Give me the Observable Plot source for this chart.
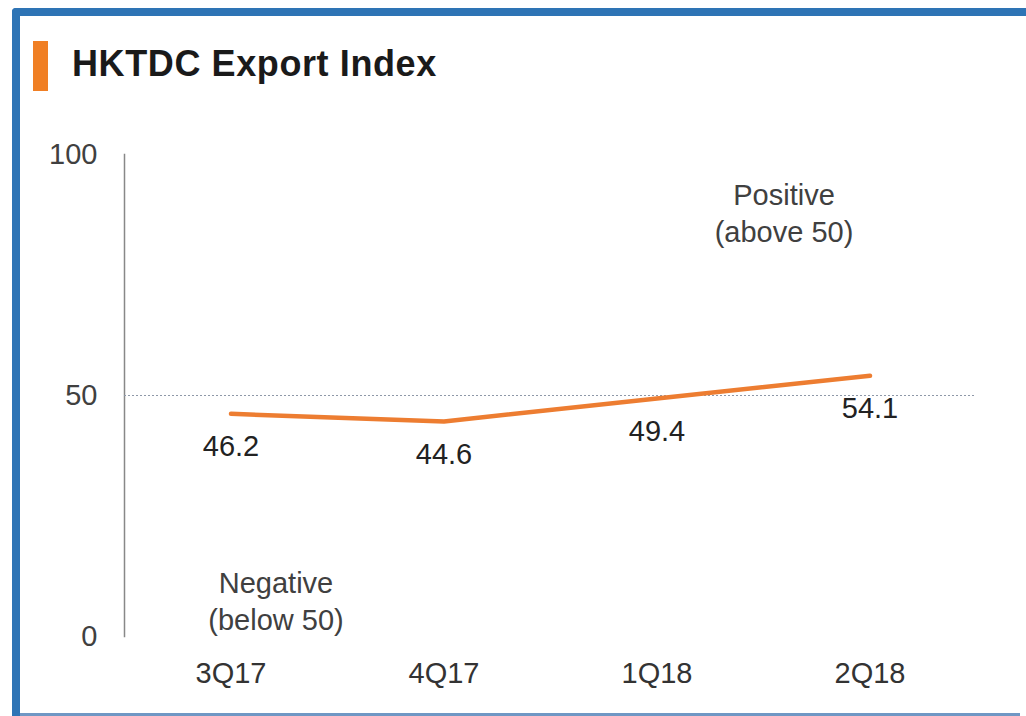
<!DOCTYPE html>
<html>
<head>
<meta charset="utf-8">
<script src="https://cdn.jsdelivr.net/npm/d3@7"></script>
<script src="https://cdn.jsdelivr.net/npm/@observablehq/plot@0.6"></script>
<style>
  html, body { margin: 0; padding: 0; background: #fff; }
  #page { position: relative; width: 1026px; height: 716px; overflow: hidden; font-family: "Liberation Sans", Arial, sans-serif; }
  #btop { position: absolute; left: 12px; top: 8px; width: 1014px; height: 8px; background: #2e74b5; border-top-left-radius: 4px; }
  #bleft { position: absolute; left: 12px; top: 8px; width: 8px; height: 708px; background: #2e74b5; border-top-left-radius: 4px; }
  #bbottom { position: absolute; left: 20px; top: 713px; width: 1000px; height: 3px; background: #7097c4; }
  #mark { position: absolute; left: 33px; top: 41px; width: 15px; height: 50px; background: #f07f24; }
  #title { position: absolute; left: 72px; top: 46px; font-size: 36px; line-height: 36px; font-weight: bold; color: #1a1a1a; letter-spacing: 0.6px; white-space: nowrap; }
  #chart { position: absolute; left: 0; top: 120px; }
</style>
</head>
<body>
<div id="page">
  <div id="btop"></div>
  <div id="bleft"></div>
  <div id="bbottom"></div>
  <div id="mark"></div>
  <div id="title">HKTDC Export Index</div>
  <div id="chart"></div>
</div>
<script>
const quarters = ["3Q17", "4Q17", "1Q18", "2Q18"];
const values = [46.2, 44.6, 49.4, 54.1];
const yTicks = [0, 50, 100];
const threshold = 50;
const positiveNote = [{q: "2Q18", y: 91.5, text: "Positive"}, {q: "2Q18", y: 83.8, text: "(above 50)"}];
const negativeNote = [{q: "3Q17", y: 11.0, text: "Negative"}, {q: "3Q17", y: 3.3, text: "(below 50)"}];

const data = quarters.map((q, i) => ({q, v: values[i]}));

const chart = Plot.plot({
  width: 1026,
  height: 580,
  marginLeft: 124,
  marginRight: 50,
  marginTop: 34,
  marginBottom: 64,
  style: {fontFamily: "Liberation Sans, Arial, sans-serif", background: "transparent", overflow: "visible"},
  x: {type: "band", domain: quarters, padding: 0},
  y: {domain: [0, 100]},
  marks: [
    Plot.axisY({ticks: yTicks, tickSize: 0, tickPadding: 27, fontSize: 29, color: "#404040", label: null}),
    Plot.axisX({tickSize: 0, tickPadding: 26, fontSize: 29, color: "#333", label: null}),
    Plot.frame({anchor: "left", stroke: "#888", strokeWidth: 1.5}),
    Plot.ruleY([threshold], {stroke: "#8e98a8", strokeWidth: 1.2, strokeDasharray: "2,2"}),
    Plot.line(data, {x: "q", y: "v", stroke: "#ed7d31", strokeWidth: 4.5}),
    Plot.text(data, {x: "q", y: "v", text: d => d.v.toFixed(1), dy: 33, fontSize: 29, fill: "#222"}),
    Plot.text(positiveNote, {x: "q", y: "y", text: "text", dx: -86, fontSize: 29, fill: "#404040"}),
    Plot.text(negativeNote, {x: "q", y: "y", text: "text", dx: 45, fontSize: 29, fill: "#404040"})
  ]
});
document.getElementById("chart").appendChild(chart);
</script>
</body>
</html>
